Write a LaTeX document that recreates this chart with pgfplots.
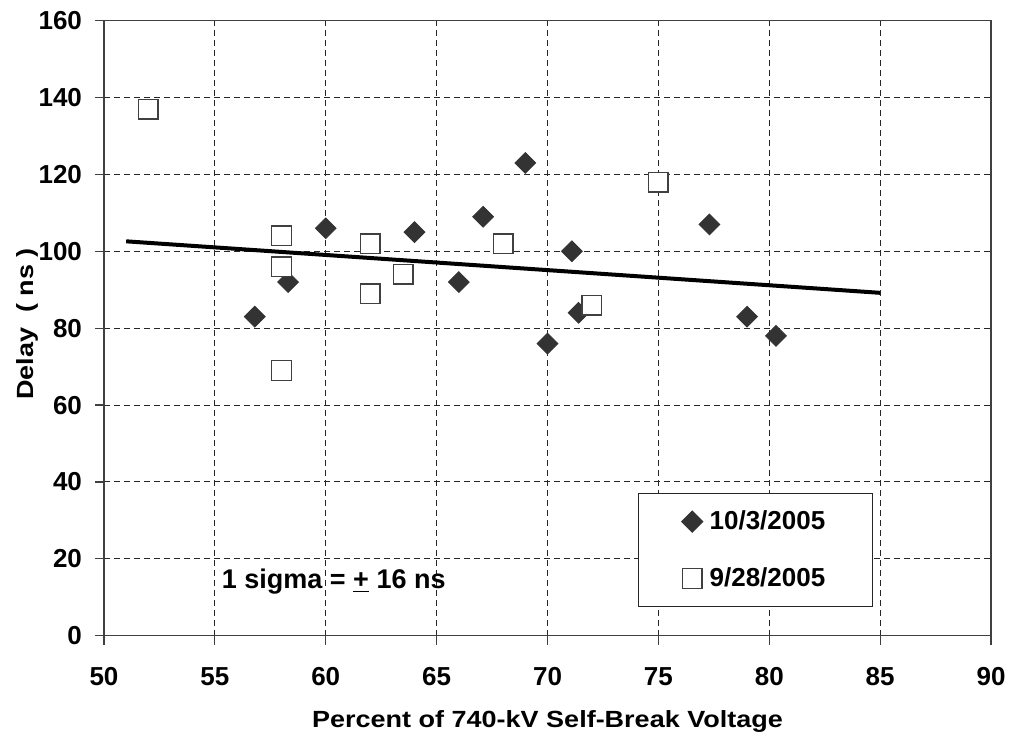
\documentclass[border=0pt]{standalone}
\usepackage{pgfplots}
\pgfplotsset{compat=1.18}
\usepackage{fontspec}
\setmainfont{Liberation Sans}
\newfontfamily\labfont[FakeStretch=1.154]{Liberation Sans}
\definecolor{mk}{HTML}{333333}
\pgfplotsset{mylegimg/.style={legend image code/.code={\draw[mark repeat=2,mark phase=2,##1] plot coordinates {(0cm,0cm) (0.15cm,0cm) (0.3cm,0cm)};}}}
\begin{document}
\begin{tikzpicture}
\begin{axis}[
  at={(0,0)}, anchor=south west,
  scale only axis, width=443.5pt, height=307.5pt,
  xmin=50, xmax=90, ymin=0, ymax=160,
  xtick={50,55,...,90}, ytick={0,20,...,160},
  tick pos=left,
  tick align=outside, major tick length=4.5pt,
  tick style={black!75, line width=0.6pt},
  xmajorgrids, ymajorgrids,
  grid style={black!85, dash pattern=on 3pt off 2pt, line width=0.5pt},
  axis line style={black!75, line width=0.7pt},
  /pgf/number format/assume math mode=true,
  tick label style={font=\fontsize{13}{15}\selectfont\bfseries},
  xticklabel style={anchor=center, yshift=-16pt},
  yticklabel style={anchor=east, xshift=-3pt},
  xlabel={Percent of 740-kV Self-Break Voltage},
  ylabel={Delay\ \ ( ns )},
  every axis x label/.style={at={(axis description cs:0.5,-0.139)}, anchor=center,
    font=\labfont\fontsize{11.7}{14}\selectfont\bfseries},
  every axis y label/.style={at={(axis description cs:-0.0866,0.5068)}, anchor=center, rotate=90,
    font=\labfont\fontsize{11.7}{14}\selectfont\bfseries},
  legend style={at={(axis cs:74.09,37.1)}, anchor=north west, draw=black!85, line width=0.6pt,
    inner xsep=21.5pt, inner ysep=6.5pt, row sep=13.5pt,
    /tikz/every odd column/.append style={column sep=1.5pt},
    font=\fontsize{13}{15}\selectfont\bfseries, cells={anchor=west}},
]
\addplot[only marks, mark=square*, mark size=3.68pt, mark options={rotate=45, fill=mk, draw=mk}, mylegimg]
  coordinates {(56.8,83) (58.3,92) (60,106) (64,105) (66,92) (67.1,109) (69,123) (70,76)
    (71.1,100) (71.4,84) (77.3,107) (79,83) (80.3,78)};
\addlegendentry{10/3/2005}
\addplot[only marks, mark=square*, mark size=4.9pt, mark options={fill=white, draw=black!75, line width=0.7pt}, mylegimg]
  coordinates {(52,137) (58,104) (58,96) (58,69) (62,102) (62,89) (63.5,94) (68,102) (72,86) (75,118)};
\addlegendentry{9/28/2005}
\addplot[black, line width=2pt, forget plot] coordinates {(51,102.6) (85,89.2)};
\node[anchor=west, inner sep=0pt, font=\fontsize{13.5}{15}\selectfont\bfseries] at (axis cs:55.3,14) {1 sigma = \underline{+} 16 ns};
\end{axis}
\pgfresetboundingbox
\path (-52pt,-51.15pt) rectangle (453.5pt,317.85pt);
\end{tikzpicture}
\end{document}
